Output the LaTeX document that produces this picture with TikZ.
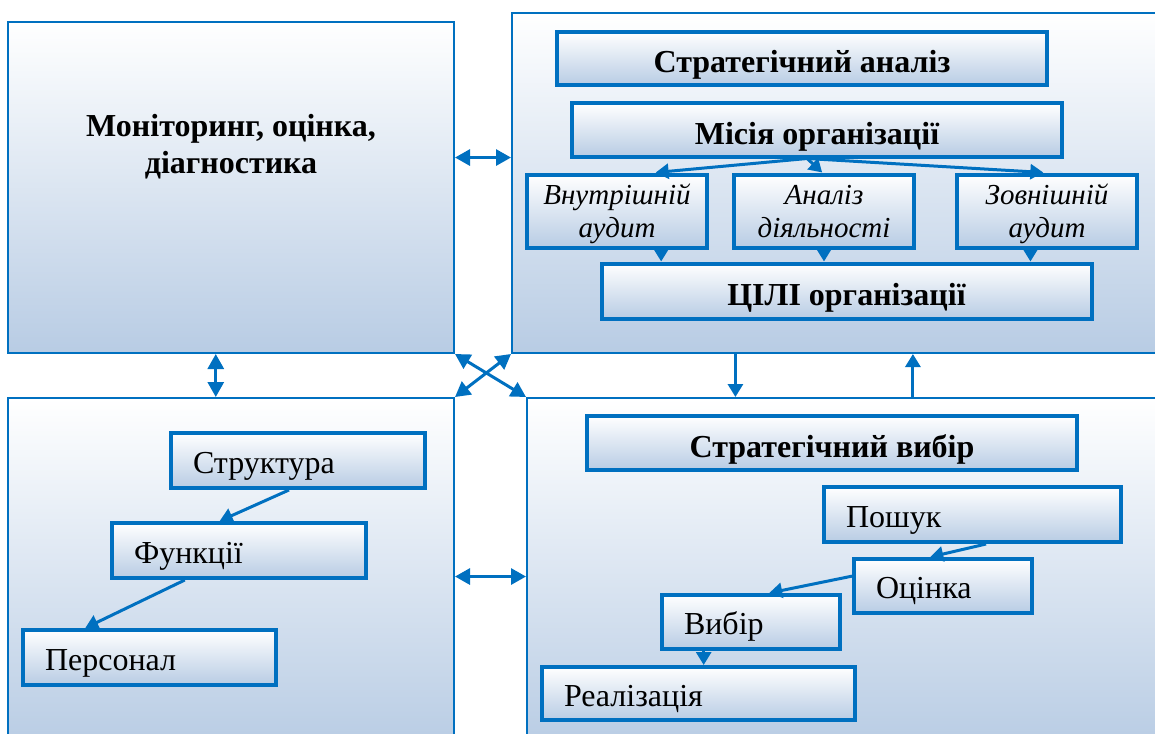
\documentclass[tikz,border=0pt]{standalone}
\usepackage{fontspec}
\setmainfont{Liberation Serif}
\usetikzlibrary{arrows.meta, positioning, calc}
\definecolor{frameblue}{RGB}{0,112,192}
\definecolor{shadeblue}{RGB}{184,204,228}

\begin{document}
\begin{tikzpicture}[x=1pt, y=-1pt,
    panel/.style={draw=frameblue, line width=2pt, top color=white,
                  bottom color=shadeblue, inner sep=0pt},
    item/.style={draw=frameblue, line width=4pt, top color=white,
                 bottom color=shadeblue, inner sep=0pt},
    title/.style={font=\fontsize{32}{37}\selectfont\bfseries, align=center},
    head/.style={font=\fontsize{32}{37}\selectfont\bfseries,
                 text height=29pt, text depth=0pt},
    sub/.style={font=\fontsize{29}{33}\selectfont\itshape, align=center,
                text depth=0pt},
    plain/.style={font=\fontsize{32}{36}\selectfont, align=left,
                  inner xsep=22pt, text height=25pt, text depth=0pt},
    link/.style={draw=frameblue, line width=3pt,
                 -{Triangle[length=13pt,width=15pt]}},
    both/.style={draw=frameblue, line width=3pt,
                 {Triangle[length=15pt,width=16pt]}-{Triangle[length=15pt,width=16pt]}}
  ]
  \useasboundingbox (0,0) rectangle (1155,733);
  \clip (0,0) rectangle (1155,733);

  % Monitoring
  \node[panel, minimum width=446pt, minimum height=331pt] (monitor)
    at (231,187.5) {};
  \node[title] (monitorlbl) at (231,147) {Моніторинг, оцінка,\\діагностика};

  % Strategic analysis
  \node[panel, minimum width=660pt, minimum height=340pt] (analysis)
    at (842,183) {};
  \node[item, head, minimum width=490pt, minimum height=53pt] (stratan)
    at (802,58.5) {Стратегічний аналіз};
  \node[item, head, minimum width=490pt, minimum height=53pt] (mission)
    at (817,130) {Місія організації};
  \node[item, sub, minimum width=180pt, minimum height=73pt] (inaudit)
    at (617,211) {Внутрішній\\аудит};
  \node[item, sub, minimum width=180pt, minimum height=73pt] (activity)
    at (824,211) {Аналіз\\діяльності};
  \node[item, sub, minimum width=180pt, minimum height=73pt] (outaudit)
    at (1047,211) {Зовнішній\\аудит};
  \node[item, head, minimum width=490pt, minimum height=55pt] (goals)
    at (846.5,291) {ЦІЛІ організації};

  % Organisation
  \node[panel, minimum width=446pt, minimum height=350pt] (org)
    at (231,573) {};
  \node[item, plain, text width=210pt, minimum height=55pt] (structure)
    at (298,460.5) {Структура};
  \node[item, plain, text width=210pt, minimum height=55pt] (functions)
    at (239,550.5) {Функції};
  \node[item, plain, text width=209pt, minimum height=55pt] (staff)
    at (149.5,657.5) {Персонал};

  % Strategic choice
  \node[panel, minimum width=645pt, minimum height=350pt] (choice)
    at (849.5,573) {};
  \node[item, head, minimum width=490pt, minimum height=54pt] (stratch)
    at (832,443) {Стратегічний вибір};
  \node[item, plain, text width=253pt, minimum height=55pt] (search)
    at (972.5,514.5) {Пошук};
  \node[item, plain, text width=134pt, minimum height=54pt] (assess)
    at (943,586) {Оцінка};
  \node[item, plain, text width=134pt, minimum height=54pt] (select)
    at (751,622) {Вибір};
  \node[item, plain, text width=269pt, minimum height=53pt] (implement)
    at (698.5,693.5) {Реалізація};

  % mission -> audits -> goals
  \coordinate (msplit) at ($(mission.south west)!0.48!(mission.south east)$);
  \draw[link] (msplit) -- ($(inaudit.north west)!0.71!(inaudit.north east)$);
  \draw[link] (msplit) -- ($(activity.north west)!0.49!(activity.north east)$);
  \draw[link] (msplit) -- ($(outaudit.north west)!0.48!(outaudit.north east)$);
  \foreach \n/\f in {inaudit/0.74, activity/0.5, outaudit/0.41} {
    \coordinate (tmp) at ($(\n.south west)!\f!(\n.south east)$);
    \draw[link] (tmp) -- (tmp |- goals.north);
  }

  % structure chain
  \draw[link] ($(structure.south west)!0.465!(structure.south east)$)
    -- ($(functions.north west)!0.425!(functions.north east)$);
  \draw[link] ($(functions.south west)!0.29!(functions.south east)$)
    -- ($(staff.north west)!0.25!(staff.north east)$);

  % choice chain
  \draw[link] ($(search.south west)!0.545!(search.south east)$)
    -- ($(assess.north west)!0.43!(assess.north east)$);
  \draw[link] ($(assess.north west)!0.33!(assess.south west)$)
    -- ($(select.north west)!0.6!(select.north east)$);
  \coordinate (sdown) at ($(select.south west)!0.24!(select.south east)$);
  \draw[link] (sdown) -- (sdown |- implement.north);

  % between the panels
  \coordinate (ma) at ($(monitor.north east)!0.41!(monitor.south east)$);
  \draw[both] (ma) -- (ma -| analysis.west);
  \coordinate (mo) at ($(monitor.south west)!0.466!(monitor.south east)$);
  \draw[both] (mo) -- (mo |- org.north);
  \draw[both] (monitor.south east) -- (choice.north west);
  \draw[both] (org.north east) -- (analysis.south west);
  \coordinate (oc) at ($(org.north east)!0.51!(org.south east)$);
  \draw[both] (oc) -- (oc -| choice.west);
  \coordinate (ad) at ($(analysis.south west)!0.339!(analysis.south east)$);
  \draw[link] (ad) -- (ad |- choice.north);
  \coordinate (cu) at ($(choice.north west)!0.598!(choice.north east)$);
  \draw[link] (cu) -- (cu |- analysis.south);
\end{tikzpicture}
\end{document}
